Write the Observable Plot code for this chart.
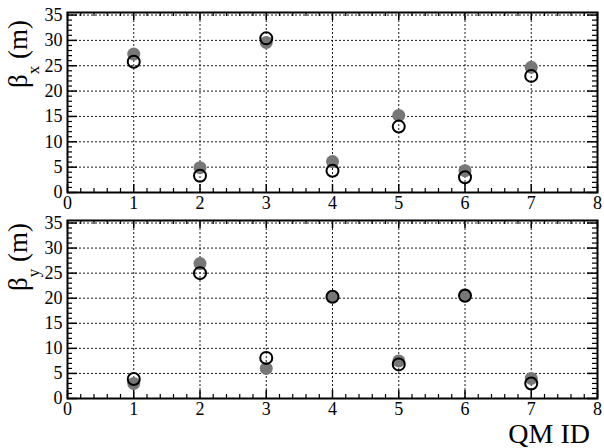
<!DOCTYPE html>
<html>
<head>
<meta charset="utf-8">
<script src="https://cdn.jsdelivr.net/npm/d3@7"></script>
<script src="https://cdn.jsdelivr.net/npm/@observablehq/plot@0.6"></script>
<style>
  body { margin: 0; background: #fff; }
  #chart { width: 604px; height: 448px; }
  #chart svg { display: block; }
</style>
</head>
<body>
<div id="chart"></div>
<script>
// Quadrupole magnet IDs along the line
const qmId = [1, 2, 3, 4, 5, 6, 7];

// Horizontal beta function (m): measured (filled) and model (open)
const betaXFilled = [27.3, 4.9, 29.6, 6.1, 15.2, 4.3, 24.7];
const betaXOpen   = [25.8, 3.3, 30.4, 4.3, 13.0, 3.0, 23.0];

// Vertical beta function (m): measured (filled) and model (open)
const betaYFilled = [3.0, 26.9, 6.0, 20.3, 7.5, 20.7, 4.0];
const betaYOpen   = [3.9, 25.0, 8.1, 20.3, 6.8, 20.5, 3.0];

// Axis tick values
const xTicks = [0, 1, 2, 3, 4, 5, 6, 7, 8];
const yTicks = [0, 5, 10, 15, 20, 25, 30, 35];

const FONT = "'Liberation Serif', 'Times New Roman', serif";
const W = 604, ML = 67, MR = 7;

function panel({filled, open, height, marginTop, marginBottom, sub, labelEnd}) {
  const fh = height - marginTop - marginBottom;
  const fw = W - ML - MR;
  const rows = qmId.map((id, i) => ({id, measured: filled[i], model: open[i]}));
  const xMinor = d3.range(0, 40).map(i => i / 5).filter(v => v % 1 !== 0);
  const yMinor = d3.range(0, 36).filter(v => v % 5 !== 0);
  const grid = {stroke: "#000", strokeOpacity: 0.9, strokeDasharray: "2,2", strokeWidth: 1};
  const text = {fontFamily: FONT, fontSize: 18};

  const svg = Plot.plot({
    width: W,
    height,
    marginLeft: ML,
    marginRight: MR,
    marginTop,
    marginBottom,
    style: {background: "#fff", color: "#000"},
    x: {domain: [0, 8]},
    y: {domain: [0, 35.5]},
    marks: [
      Plot.gridX(xTicks.filter(v => v > 0 && v < 8), grid),
      Plot.gridY(yTicks.filter(v => v > 0), grid),
      // inward ticks on all four sides
      Plot.tickX(xTicks, {x: d => d, insetTop: fh - 8, strokeWidth: 1.5}),
      Plot.tickX(xTicks, {x: d => d, insetBottom: fh - 8, strokeWidth: 1.5}),
      Plot.tickX(xMinor, {x: d => d, insetTop: fh - 4, strokeWidth: 1.2}),
      Plot.tickX(xMinor, {x: d => d, insetBottom: fh - 4, strokeWidth: 1.2}),
      Plot.tickY(yTicks, {y: d => d, insetRight: fw - 10, strokeWidth: 1.5}),
      Plot.tickY(yTicks, {y: d => d, insetLeft: fw - 10, strokeWidth: 1.5}),
      Plot.tickY(yMinor, {y: d => d, insetRight: fw - 5, strokeWidth: 1.2}),
      Plot.tickY(yMinor, {y: d => d, insetLeft: fw - 5, strokeWidth: 1.2}),
      Plot.dot(rows, {x: "id", y: "measured", r: 6.5, fill: "#777", stroke: "none"}),
      Plot.dot(rows, {x: "id", y: "model", r: 6, fill: "none", stroke: "#000", strokeWidth: 2}),
      Plot.frame({stroke: "#000", strokeWidth: 2}),
      Plot.axisX({ticks: xTicks, tickSize: 0, tickPadding: 4, label: null, ...text}),
      Plot.axisY({ticks: yTicks, tickSize: 0, tickPadding: 5, label: null, ...text})
    ]
  });

  // rotated axis title with subscript, aligned to the top end of the axis
  const t = d3.select(svg).append("text")
    .attr("transform", `translate(27,${labelEnd}) rotate(-90)`)
    .attr("text-anchor", "end")
    .attr("fill", "#000")
    .style("font-size", "27px");
  t.append("tspan").text("β");
  t.append("tspan").attr("dy", 12).style("font-size", "17px").text(sub);
  t.append("tspan").attr("dy", -12).text(" (m)");

  d3.select(svg).selectAll("text").style("font-family", FONT);
  return svg;
}

const upperPanel = panel({filled: betaXFilled, open: betaXOpen, height: 212, marginTop: 12, marginBottom: 20, sub: "x", labelEnd: 20});
const lowerPanel = panel({filled: betaYFilled, open: betaYOpen, height: 236, marginTop: 8, marginBottom: 50, sub: "y", labelEnd: 11});

d3.select(lowerPanel).append("text")
  .attr("x", 590)
  .attr("y", 231)
  .attr("text-anchor", "end")
  .attr("fill", "#000")
  .style("font-family", FONT)
  .style("font-size", "28px")
  .text("QM ID");

const chart = document.getElementById("chart");
chart.appendChild(upperPanel);
chart.appendChild(lowerPanel);
</script>
</body>
</html>
